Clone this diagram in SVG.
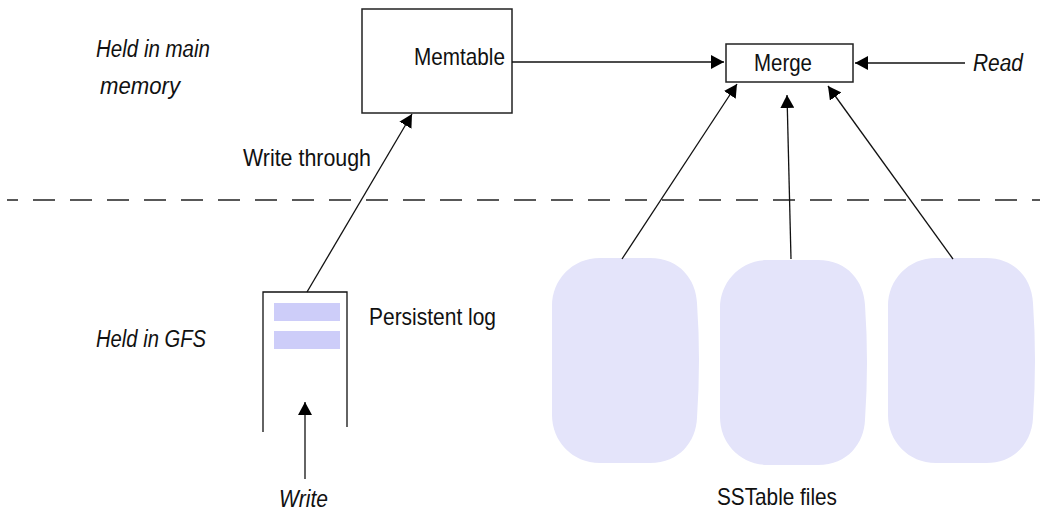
<svg xmlns="http://www.w3.org/2000/svg" xmlns:xlink="http://www.w3.org/1999/xlink" width="1040" height="511" viewBox="0 0 1040 511">
<style>
.t{font-family:"Liberation Sans Narrow","Liberation Sans",Arial,sans-serif;font-size:24px;fill:#111}
.i{font-style:italic;font-size:23px}
.box{fill:#fff;stroke:#222;stroke-width:1.5}
.conn{stroke:#111;stroke-width:1.3;fill:none}
.blob{fill:#E4E4FA}
.bar{fill:#CDCDF9}
.dash{stroke:#222;stroke-width:1.3;stroke-dasharray:22 15;stroke-dashoffset:11}
</style>
<defs>
<marker id="ah" markerWidth="14" markerHeight="14" viewBox="0 0 14 14" refX="13" refY="7" orient="auto" markerUnits="userSpaceOnUse">
<path d="M0,0 L13,7 L0,14 Z" fill="#000"/>
</marker>
<path id="blobShape" d="M48,0 H98 C128,0 144,22 145,45 Q149,102 145,160 C144,183 128,205 98,205 H48 C20,205 0,183 0,157 V48 C0,22 20,0 48,0 Z"/>
</defs>
<rect width="1040" height="511" fill="#fff"/>

<line class="dash" x1="7" y1="200" x2="1040" y2="200"/>

<text class="t i" x="96" y="56.5" textLength="114" lengthAdjust="spacingAndGlyphs">Held in main</text>
<text class="t i" x="100" y="94" textLength="80" lengthAdjust="spacingAndGlyphs">memory</text>
<text class="t i" x="96" y="347" textLength="110" lengthAdjust="spacingAndGlyphs">Held in GFS</text>

<g id="memtable">
<rect class="box" x="362" y="9" width="150" height="104"/>
<text class="t" x="414" y="65" textLength="91" lengthAdjust="spacingAndGlyphs">Memtable</text>
</g>

<g id="merge">
<rect class="box" x="726" y="44" width="127" height="38"/>
<text class="t" x="754" y="70.5" textLength="58" lengthAdjust="spacingAndGlyphs">Merge</text>
</g>

<g id="read">
<text class="t i" x="973" y="70.5" textLength="50" lengthAdjust="spacingAndGlyphs">Read</text>
</g>

<g id="persistent-log">
<path class="conn" d="M263,432 V292 H347 V427"/>
<rect class="bar" x="274" y="303" width="66" height="18"/>
<rect class="bar" x="274" y="331" width="66" height="18"/>
<text class="t" x="369" y="325" textLength="127" lengthAdjust="spacingAndGlyphs">Persistent log</text>
</g>

<g id="write">
<text class="t i" x="279" y="506.5" textLength="49" lengthAdjust="spacingAndGlyphs">Write</text>
</g>

<g id="sstables">
<use xlink:href="#blobShape" class="blob" transform="translate(552,258)"/>
<use xlink:href="#blobShape" class="blob" transform="translate(720,260)"/>
<use xlink:href="#blobShape" class="blob" transform="translate(888,258)"/>
<text class="t" x="717" y="505" textLength="120" lengthAdjust="spacingAndGlyphs">SSTable files</text>
</g>

<g id="connectors">
<line class="conn" x1="512" y1="62" x2="724" y2="62" marker-end="url(#ah)"/>
<line class="conn" x1="965" y1="63" x2="855" y2="63" marker-end="url(#ah)"/>
<line class="conn" x1="307" y1="292" x2="412" y2="114" marker-end="url(#ah)"/>
<text class="t" x="243" y="166" textLength="128" lengthAdjust="spacingAndGlyphs">Write through</text>
<line class="conn" x1="305" y1="479" x2="305" y2="402" marker-end="url(#ah)"/>
<line class="conn" x1="622" y1="259" x2="737" y2="84" marker-end="url(#ah)"/>
<line class="conn" x1="791" y1="259" x2="787" y2="95" marker-end="url(#ah)"/>
<line class="conn" x1="953" y1="259" x2="828" y2="86" marker-end="url(#ah)"/>
</g>
</svg>
